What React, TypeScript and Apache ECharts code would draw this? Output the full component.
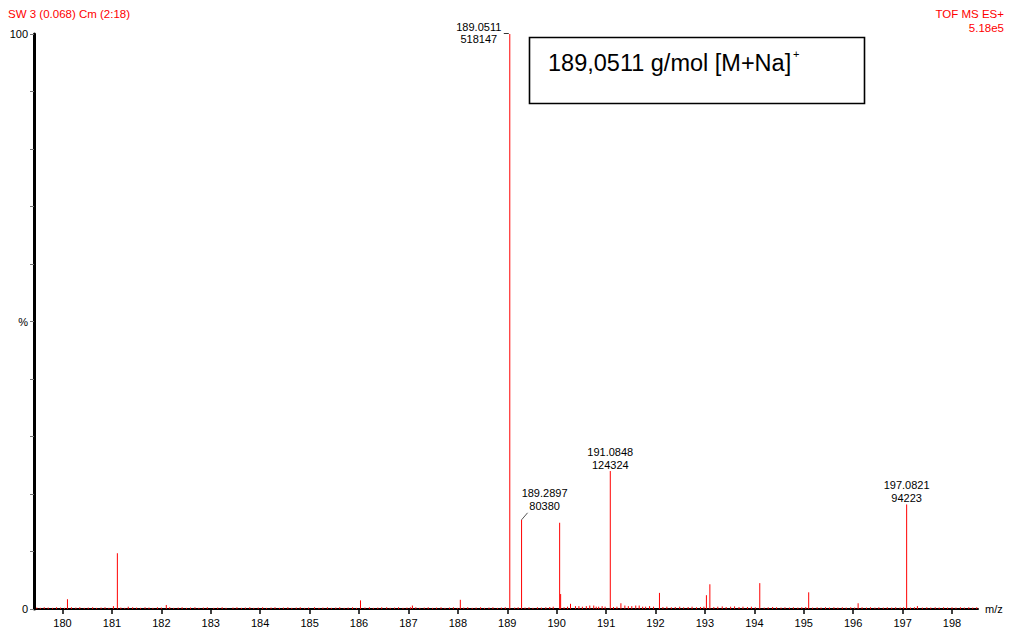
import React, { useEffect, useRef } from "react";
import * as echarts from "echarts";

// ---- data ----
const basePeakIntensity = 518147; // 100 %
const labelMz = [189.0511, 189.2897, 191.0848, 197.0821];
const labelIntensity = [518147, 80380, 124324, 94223];
const labelPlacement = ["left", "leader", "above", "above"];

// other visible peaks (m/z, % of base peak)
const peakMz = [
  180.1, 181.03, 181.11, 181.33, 182.1, 186.03, 186.56, 187.04, 187.08, 188.05,
  189.93, 190.06, 190.08, 190.28, 190.45, 190.6, 190.75, 190.85, 191.3, 191.45,
  191.6, 191.8, 192.08, 193.03, 193.1, 194.11, 195.1, 196.1, 197.3,
];
const peakPct = [
  1.7, 0.5, 9.7, 0.4, 0.7, 1.5, 0.3, 0.3, 0.6, 1.6,
  0.4, 15.0, 2.6, 0.9, 0.5, 0.5, 0.6, 0.4, 1.0, 0.5,
  0.6, 0.4, 2.8, 2.4, 4.3, 4.5, 2.9, 1.0, 0.5,
];

// baseline noise (m/z, %)
const noise: [number, number][] = [
  [179.48, 0.25], [179.55, 0.2], [179.63, 0.3], [179.71, 0.25], [179.8, 0.2], [179.88, 0.3], [179.96, 0.25],
  [180.04, 0.2], [180.18, 0.3], [180.27, 0.25], [180.35, 0.3], [180.44, 0.2], [180.52, 0.25], [180.61, 0.3],
  [180.69, 0.2], [180.78, 0.25], [180.86, 0.3], [180.94, 0.2], [181.18, 0.25], [181.26, 0.2], [181.42, 0.3],
  [181.5, 0.25], [181.58, 0.2], [181.67, 0.3], [181.75, 0.25], [181.83, 0.2], [181.92, 0.3], [182.0, 0.25],
  [182.17, 0.3], [182.25, 0.2], [182.34, 0.25], [182.42, 0.3], [182.51, 0.2], [182.59, 0.25], [182.68, 0.3],
  [182.76, 0.2], [182.85, 0.25], [182.93, 0.3], [183.06, 0.2], [183.14, 0.25], [183.23, 0.3], [183.31, 0.2],
  [183.45, 0.25], [183.53, 0.3], [183.62, 0.2], [183.7, 0.25], [183.79, 0.3], [183.87, 0.2], [183.96, 0.25],
  [184.05, 0.3], [184.13, 0.2], [184.22, 0.25], [184.3, 0.3], [184.39, 0.2], [184.47, 0.25], [184.56, 0.3],
  [184.64, 0.2], [184.73, 0.25], [184.81, 0.3], [184.9, 0.2], [184.98, 0.25], [185.1, 0.3], [185.19, 0.2],
  [185.27, 0.25], [185.36, 0.3], [185.44, 0.2], [185.53, 0.25], [185.61, 0.3], [185.7, 0.2], [185.78, 0.25],
  [185.87, 0.3], [185.95, 0.2], [186.12, 0.25], [186.21, 0.3], [186.29, 0.2], [186.38, 0.25], [186.46, 0.3],
  [186.63, 0.2], [186.72, 0.25], [186.8, 0.3], [186.89, 0.2], [186.97, 0.25], [187.15, 0.3], [187.23, 0.2],
  [187.32, 0.25], [187.4, 0.3], [187.49, 0.2], [187.57, 0.25], [187.66, 0.3], [187.74, 0.2], [187.83, 0.25],
  [187.91, 0.3], [187.99, 0.2], [188.12, 0.25], [188.2, 0.3], [188.29, 0.2], [188.37, 0.25], [188.46, 0.3],
  [188.54, 0.2], [188.63, 0.25], [188.71, 0.3], [188.8, 0.2], [188.88, 0.25], [188.96, 0.3], [189.15, 0.25],
  [189.22, 0.3], [189.36, 0.25], [189.44, 0.3], [189.52, 0.2], [189.61, 0.3], [189.69, 0.25], [189.78, 0.3],
  [189.86, 0.35], [190.15, 0.3], [190.22, 0.4], [190.38, 0.5], [190.52, 0.4], [190.67, 0.6], [190.8, 0.4],
  [190.92, 0.5], [190.98, 0.4], [191.15, 0.35], [191.22, 0.4], [191.38, 0.6], [191.52, 0.5], [191.67, 0.6],
  [191.74, 0.4], [191.88, 0.5], [191.96, 0.4], [192.15, 0.35], [192.23, 0.4], [192.32, 0.3], [192.4, 0.35],
  [192.49, 0.4], [192.57, 0.3], [192.66, 0.35], [192.74, 0.4], [192.83, 0.3], [192.91, 0.35], [192.98, 0.4],
  [193.18, 0.35], [193.26, 0.4], [193.35, 0.45], [193.43, 0.35], [193.52, 0.4], [193.6, 0.45], [193.69, 0.35],
  [193.77, 0.4], [193.86, 0.35], [193.94, 0.4], [194.02, 0.3], [194.2, 0.25], [194.28, 0.3], [194.37, 0.35],
  [194.45, 0.3], [194.54, 0.25], [194.62, 0.3], [194.71, 0.25], [194.79, 0.3], [194.88, 0.25], [194.96, 0.3],
  [195.04, 0.35], [195.18, 0.25], [195.27, 0.3], [195.35, 0.25], [195.44, 0.3], [195.52, 0.25], [195.61, 0.3],
  [195.69, 0.25], [195.78, 0.3], [195.86, 0.25], [195.95, 0.3], [196.03, 0.25], [196.18, 0.3], [196.27, 0.25],
  [196.35, 0.3], [196.44, 0.25], [196.52, 0.3], [196.61, 0.25], [196.69, 0.3], [196.78, 0.25], [196.86, 0.3],
  [196.95, 0.25], [197.02, 0.3], [197.16, 0.25], [197.24, 0.3], [197.4, 0.25], [197.49, 0.3], [197.57, 0.25],
  [197.66, 0.3], [197.74, 0.25], [197.83, 0.3], [197.91, 0.25], [198.0, 0.3], [198.08, 0.25], [198.17, 0.3],
  [198.25, 0.25], [198.34, 0.3], [198.42, 0.25], [198.5, 0.3],
];

const xTickValues = [180, 181, 182, 183, 184, 185, 186, 187, 188, 189, 190, 191, 192, 193, 194, 195, 196, 197, 198];
const headerLeft = "SW 3 (0.068) Cm (2:18)";
const headerRight = ["TOF MS ES+", "5.18e5"];
const boxText = "189,0511 g/mol [M+Na]";
const boxSup = "+";

const FONT = "'Liberation Sans', Arial, sans-serif";

export default function App() {
  const ref = useRef<HTMLDivElement>(null);
  useEffect(() => {
    if (!ref.current) return;
    const chart = echarts.init(ref.current, null, { renderer: "svg" });

    const labelPct = labelIntensity.map((v) => (v / basePeakIntensity) * 100);
    const stickData: number[][] = [];
    noise.forEach(([m, p]) => stickData.push([m, p]));
    peakMz.forEach((m, i) => stickData.push([m, peakPct[i]]));
    labelMz.forEach((m, i) => stickData.push([m, labelPct[i]]));

    const labelData = labelMz.map((m, i) => [m, labelPct[i], labelIntensity[i]]);

    const option: any = {
      animation: false,
      backgroundColor: "#ffffff",
      grid: {
        left: 34,
        top: 34,
        width: 944,
        height: 575,
        containLabel: false,
        outerBoundsMode: "none",
      },
      xAxis: {
        type: "value",
        min: 179.423,
        max: 198.526,
        name: "m/z",
        nameLocation: "end",
        nameGap: 7,
        nameTextStyle: { color: "#000", fontSize: 11, fontFamily: FONT },
        axisLine: { show: true, onZero: false, lineStyle: { color: "#000", width: 2 } },
        axisTick: { show: true, customValues: xTickValues, length: 5, lineStyle: { color: "#000", width: 1.5 } },
        axisLabel: {
          show: true,
          customValues: xTickValues,
          color: "#000",
          fontSize: 11,
          fontFamily: FONT,
          margin: 8,
        },
        splitLine: { show: false },
      },
      yAxis: {
        type: "value",
        min: 0,
        max: 100,
        interval: 10,
        axisLine: { show: true, lineStyle: { color: "#000", width: 3 } },
        axisTick: { show: true, length: 4, lineStyle: { color: "#777", width: 1 } },
        axisLabel: {
          show: true,
          color: "#000",
          fontSize: 11,
          fontFamily: FONT,
          margin: 6,
          formatter: (v: number) => (v === 0 ? "0" : v === 100 ? "100" : v === 50 ? "%" : ""),
        },
        splitLine: { show: false },
      },
      series: [
        {
          type: "custom",
          silent: true,
          data: stickData,
          renderItem: (params: any, api: any) => {
            const x = api.value(0);
            const y = api.value(1);
            const a = api.coord([x, 0]);
            const b = api.coord([x, y]);
            return {
              type: "line",
              shape: { x1: a[0], y1: a[1], x2: b[0], y2: b[1] },
              style: { stroke: "#ff0000", lineWidth: 1 },
            };
          },
        },
        {
          type: "custom",
          silent: true,
          data: labelData,
          renderItem: (params: any, api: any) => {
            const i = params.dataIndex;
            const x = api.value(0);
            const y = api.value(1);
            const p = api.coord([x, y]);
            const text = x.toFixed(4) + "\n" + String(api.value(2));
            const placement = labelPlacement[i];
            const ts = { fill: "#000", fontSize: 11, fontFamily: FONT, lineHeight: 13 };
            if (placement === "left") {
              return {
                type: "group",
                children: [
                  {
                    type: "line",
                    shape: { x1: p[0] - 6, y1: p[1] - 0.5, x2: p[0] - 1, y2: p[1] - 0.5 },
                    style: { stroke: "#333", lineWidth: 1 },
                  },
                  {
                    type: "text",
                    x: p[0] - 31,
                    y: p[1] - 1,
                    style: { ...ts, lineHeight: 12, text, align: "center", verticalAlign: "middle" },
                  },
                ],
              };
            }
            if (placement === "leader") {
              return {
                type: "group",
                children: [
                  {
                    type: "line",
                    shape: { x1: p[0], y1: p[1], x2: p[0] + 6, y2: p[1] - 7 },
                    style: { stroke: "#555", lineWidth: 1 },
                  },
                  {
                    type: "text",
                    x: p[0] + 23,
                    y: p[1] - 7,
                    style: { ...ts, text, align: "center", verticalAlign: "bottom" },
                  },
                ],
              };
            }
            return {
              type: "text",
              x: p[0],
              y: p[1] + 0.5,
              style: { ...ts, text, align: "center", verticalAlign: "bottom" },
            };
          },
        },
      ],
      graphic: [
        {
          type: "text",
          x: 8,
          y: 14,
          style: { text: headerLeft, fill: "#ff0000", fontSize: 11.5, fontFamily: FONT, align: "left", verticalAlign: "middle" },
        },
        {
          type: "text",
          x: 1004,
          y: 14,
          style: { text: headerRight[0], fill: "#ff0000", fontSize: 11.5, fontFamily: FONT, align: "right", verticalAlign: "middle" },
        },
        {
          type: "text",
          x: 1004,
          y: 28,
          style: { text: headerRight[1], fill: "#ff0000", fontSize: 11.5, fontFamily: FONT, align: "right", verticalAlign: "middle" },
        },
        {
          type: "rect",
          shape: { x: 529.5, y: 37.5, width: 335, height: 66 },
          style: { fill: "#fff", stroke: "#000", lineWidth: 1.6 },
          z: 10,
        },
        {
          type: "text",
          x: 548,
          y: 63,
          style: { text: boxText, fill: "#000", fontSize: 23.5, fontFamily: FONT, align: "left", verticalAlign: "middle" },
          z: 11,
        },
        {
          type: "text",
          x: 793,
          y: 54,
          style: { text: boxSup, fill: "#000", fontSize: 11, fontFamily: FONT, align: "left", verticalAlign: "middle" },
          z: 11,
        },
      ],
    };

    chart.setOption(option);
    return () => chart.dispose();
  }, []);

  return (
    <div
      ref={ref}
      style={{ position: "fixed", left: 0, top: 0, width: 1009, height: 629, background: "#fff" }}
    />
  );
}
